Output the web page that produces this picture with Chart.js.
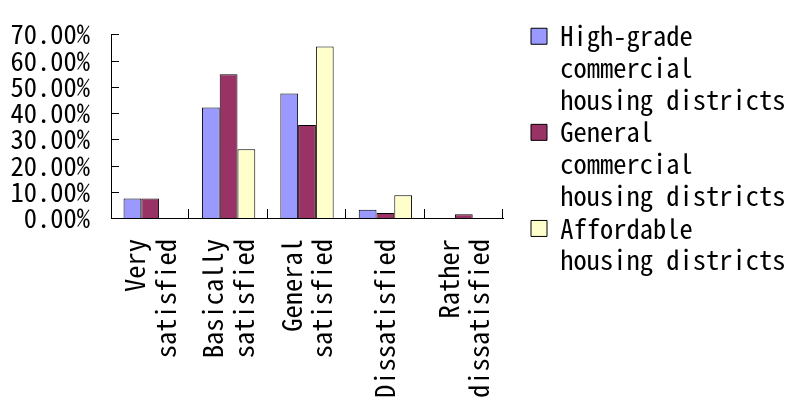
<!DOCTYPE html>
<html>
<head>
<meta charset="utf-8">
<script src="https://cdn.jsdelivr.net/npm/chart.js@4/dist/chart.umd.min.js"></script>
<style>
  html, body { margin: 0; padding: 0; background: #fff; }
  #wrap { position: relative; width: 790px; height: 401px; }
</style>
</head>
<body>
<div id="wrap"><canvas id="chart"></canvas></div>
<script>
// Satisfaction levels (x categories, wrapped as drawn)
const categories = [
  ['Very', 'satisfied'],
  ['Basically', 'satisfied'],
  ['General', 'satisfied'],
  'Dissatisfied',
  ['Rather', 'dissatisfied']
];

// Share of residents per satisfaction level, in percent
const highGradeValues  = [7.4, 42.1, 47.4, 3.1, 0];
const generalValues    = [7.4, 54.8, 35.4, 1.9, 1.4];
const affordableValues = [0, 26.2, 65.3, 8.7, 0];

// Legend entries, one line per element
const seriesNames = [
  ['High-grade', 'commercial', 'housing districts'],
  ['General', 'commercial', 'housing districts'],
  ['Affordable', 'housing districts']
];

const yTickMin = 0;
const yTickMax = 70;
const yTickStep = 10;

const FONT = "'Noto Sans Mono CJK SC', 'Liberation Mono', monospace";
const FONT_SIZE = 26.5;

// Short tick marks drawn inward from both axes
const innerTicks = {
  id: 'innerTicks',
  afterDraw(chart) {
    const { ctx, chartArea, scales: { x, y } } = chart;
    ctx.save();
    ctx.strokeStyle = '#000';
    ctx.lineWidth = 1;
    ctx.beginPath();
    y.ticks.forEach((t, i) => {
      const py = Math.round(y.getPixelForTick(i)) + 0.5;
      ctx.moveTo(chartArea.left, py);
      ctx.lineTo(chartArea.left + 8, py);
    });
    const half = (x.getPixelForValue(1) - x.getPixelForValue(0)) / 2;
    x.ticks.forEach((t, i) => {
      const px = Math.round(x.getPixelForValue(i) + half) - 0.5;
      ctx.moveTo(px, chartArea.bottom);
      ctx.lineTo(px, chartArea.bottom - 9);
    });
    ctx.stroke();
    ctx.restore();
  }
};

// Center multi-line rotated category labels on their category
const centerLabelBlocks = {
  id: 'centerLabelBlocks',
  beforeDraw(chart) {
    const x = chart.scales.x;
    const items = x.getLabelItems();
    if (!items || items._centered) return;
    items.forEach(it => {
      const n = Array.isArray(it.label) ? it.label.length : 1;
      it.options.translation[0] -= (n - 1) * it.font.lineHeight / 2;
    });
    items._centered = true;
  }
};

Chart.defaults.color = '#000';
Chart.defaults.font.family = FONT;

new Chart(document.getElementById('chart'), {
  type: 'bar',
  data: {
    labels: categories,
    datasets: [
      { label: seriesNames[0].join(' '), data: highGradeValues,  backgroundColor: '#9999FF', yAxisID: 'y' },
      { label: seriesNames[1].join(' '), data: generalValues,    backgroundColor: '#993366', yAxisID: 'y' },
      { label: seriesNames[2].join(' '), data: affordableValues, backgroundColor: '#FFFFCC', yAxisID: 'y' }
    ]
  },
  options: {
    responsive: true,
    maintainAspectRatio: false,
    animation: false,
    layout: { padding: { top: 22, left: 10, right: 0, bottom: 0 } },
    datasets: {
      bar: {
        borderColor: '#000',
        borderWidth: 1,
        categoryPercentage: 0.68,
        barPercentage: 1.0
      }
    },
    scales: {
      x: {
        grid: { display: false, drawTicks: false },
        border: { display: true, color: '#000', width: 1 },
        ticks: {
          autoSkip: false,
          minRotation: 90,
          maxRotation: 90,
          padding: 21,
          font: { size: FONT_SIZE, lineHeight: '30.5px' }
        },
        afterFit(s) { s.height = 183; }
      },
      y: {
        min: yTickMin,
        max: yTickMax,
        grid: { display: false, drawTicks: false },
        border: { display: true, color: '#000', width: 1 },
        ticks: {
          stepSize: yTickStep,
          autoSkip: false,
          padding: 21,
          font: { size: FONT_SIZE, lineHeight: 1 },
          callback: v => v.toFixed(2) + '%'
        },
        afterFit(s) { s.width = 101; }
      },
      gap: {
        type: 'linear',
        position: 'right',
        display: true,
        grid: { display: false },
        border: { display: false },
        ticks: { display: false },
        afterFit(s) { s.width = 27; }
      }
    },
    plugins: {
      tooltip: { enabled: false },
      legend: {
        position: 'right',
        align: 'start',
        maxWidth: 260,
        labels: {
          boxWidth: 16,
          boxHeight: 16,
          padding: 1,
          font: { size: FONT_SIZE, lineHeight: '31.7px' },
          generateLabels(chart) {
            const items = Chart.defaults.plugins.legend.labels.generateLabels(chart);
            items.forEach((it, i) => { it.text = seriesNames[i]; });
            return items;
          }
        }
      }
    }
  },
  plugins: [innerTicks, centerLabelBlocks]
});
</script>
</body>
</html>
